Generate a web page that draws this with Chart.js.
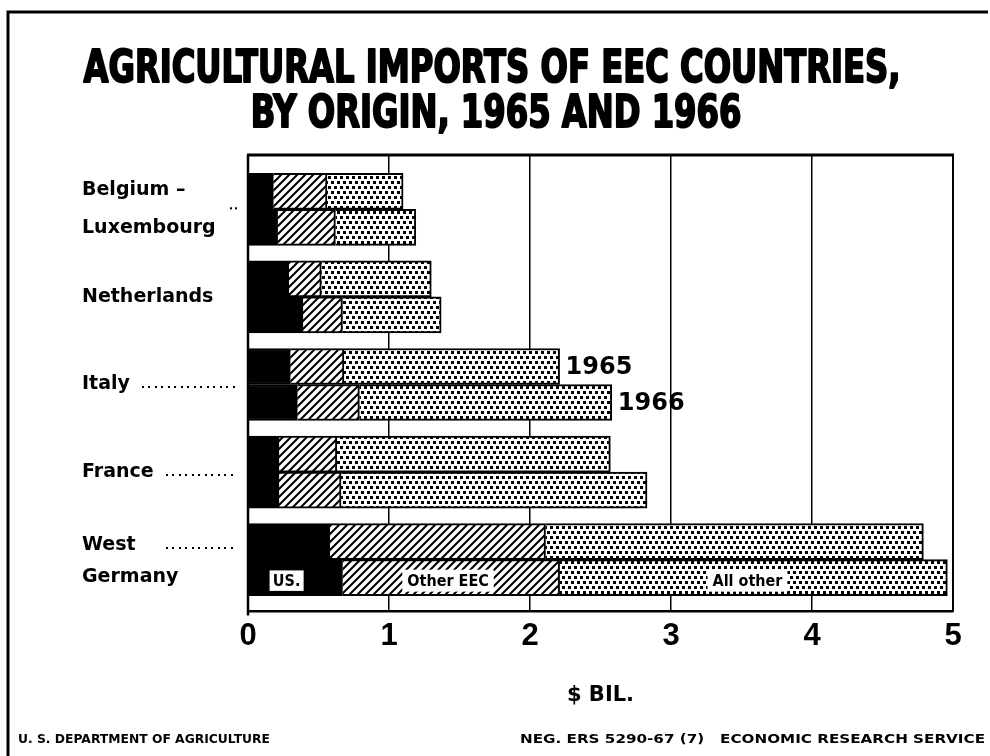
<!DOCTYPE html>
<html><head><meta charset="utf-8">
<script src="https://cdn.jsdelivr.net/npm/chart.js@4/dist/chart.umd.min.js"></script>
<style>html,body{margin:0;padding:0;background:#fff;}canvas{display:block;}</style>
</head><body>
<canvas id="c" width="990" height="756"></canvas>
<script>
// ---------- data ----------
const categories = [['Belgium –','Luxembourg'],['Netherlands'],['Italy'],['France'],['West','Germany']];
const years = ['1965','1966'];
const us1965    = [0.18, 0.29, 0.30, 0.22, 0.58];
const eec1965   = [0.38, 0.23, 0.38, 0.41, 1.53];
const other1965 = [0.54, 0.78, 1.53, 1.94, 2.68];
const us1966    = [0.21, 0.39, 0.35, 0.22, 0.67];
const eec1966   = [0.41, 0.28, 0.44, 0.44, 1.54];
const other1966 = [0.57, 0.70, 1.79, 2.17, 2.75];
const xTickLabels = ['0','1','2','3','4','5'];
const titleLines = ['AGRICULTURAL IMPORTS OF EEC COUNTRIES,','BY ORIGIN, 1965 AND 1966'];
const axisTitle = '$ BIL.';
const segmentNames = ['US.','Other EEC','All other'];
const footerLeft = 'U. S. DEPARTMENT OF AGRICULTURE';
const footerRight = 'NEG. ERS 5290-67 (7)   ECONOMIC RESEARCH SERVICE';

// ---------- styling ----------
const TITLE_FONT = "'Liberation Sans Narrow','DejaVu Sans Condensed','Roboto Condensed','Liberation Sans',sans-serif";
const LABEL_FONT = "'DejaVu Sans',sans-serif";
const TICK_FONT = "'Liberation Sans',Arial,sans-serif";

const canvas = document.getElementById('c');
const cctx = canvas.getContext('2d');

function makeHatch(){
  const c = document.createElement('canvas'); c.width = 8; c.height = 8;
  const g = c.getContext('2d');
  g.fillStyle = '#fff'; g.fillRect(0,0,8,8);
  g.strokeStyle = '#000'; g.lineWidth = 2.1;
  g.beginPath();
  g.moveTo(-1,9); g.lineTo(9,-1);
  g.moveTo(-1,1); g.lineTo(1,-1);
  g.moveTo(7,9); g.lineTo(9,7);
  g.stroke();
  return cctx.createPattern(c,'repeat');
}
function makeDots(){
  const c = document.createElement('canvas'); c.width = 6; c.height = 10;
  const g = c.getContext('2d');
  g.fillStyle = '#fff'; g.fillRect(0,0,6,10);
  g.fillStyle = '#000';
  g.fillRect(1,1,3,3);
  g.fillRect(4,6,2,3); g.fillRect(0,6,1,3);
  return cctx.createPattern(c,'repeat');
}
const HATCH = makeHatch();
const DOTS = makeDots();

function ds(label, arr, stack, bg){
  return {
    label, stack,
    data: arr.map((v,i)=>({x:v, y:i})),
    backgroundColor: bg, borderColor:'#000', borderWidth:2,
    borderSkipped:'start', barThickness:36
  };
}

function drawScaledText(ctx, text, x, y, width, font, align){
  ctx.save();
  ctx.font = font;
  const w = ctx.measureText(text).width;
  const sx = width / w;
  ctx.translate(x, y);
  ctx.scale(sx, 1);
  ctx.textAlign = align; ctx.textBaseline = 'middle';
  ctx.fillText(text, 0, 0);
  ctx.restore();
}

const deco = {
  id:'deco',
  beforeDraw(chart){
    const ctx = chart.ctx;
    ctx.save();
    ctx.fillStyle = '#fff'; ctx.fillRect(0,0,chart.width,chart.height);
    ctx.strokeStyle = '#000'; ctx.lineWidth = 3;
    ctx.beginPath(); ctx.moveTo(8,756); ctx.lineTo(8,12); ctx.lineTo(988,12); ctx.stroke();
    // title
    ctx.fillStyle = '#000';
    const tf = 'bold 45px ' + TITLE_FONT;
    ctx.font = tf;
    const sx = 817 / ctx.measureText(titleLines[0]).width;
    [[titleLines[0],492,70],[titleLines[1],496,115]].forEach(([t,x,y])=>{
      ctx.save(); ctx.translate(x,y); ctx.scale(sx,1);
      ctx.font = tf; ctx.textAlign='center'; ctx.textBaseline='middle';
      ctx.lineWidth = 2; ctx.lineJoin = 'round';
      ctx.fillText(t,0,0); ctx.strokeText(t,0,0); ctx.restore();
    });
    // footer
    drawScaledText(ctx, footerLeft, 18, 740, 252, 'bold 12px ' + LABEL_FONT, 'left');
    drawScaledText(ctx, footerRight, 985, 740, 465, 'bold 12px ' + LABEL_FONT, 'right');
    ctx.restore();
  },
  afterDatasetsDraw(chart){
    const ctx = chart.ctx;
    const a = chart.chartArea;
    ctx.save();
    ctx.strokeStyle = '#000';
    // plot frame
    ctx.lineWidth = 3;
    ctx.beginPath(); ctx.moveTo(a.left-1, a.top); ctx.lineTo(a.right+1, a.top); ctx.stroke();
    ctx.lineWidth = 2;
    ctx.beginPath(); ctx.moveTo(a.right, a.top); ctx.lineTo(a.right, a.bottom); ctx.stroke();
    ctx.lineWidth = 2.5;
    ctx.beginPath(); ctx.moveTo(a.left, a.top); ctx.lineTo(a.left, a.bottom+4); ctx.stroke();

    // category labels
    const yS = chart.scales.y;
    ctx.fillStyle = '#000';
    ctx.font = 'bold 19px ' + LABEL_FONT;
    ctx.textAlign = 'left'; ctx.textBaseline = 'middle';
    categories.forEach((lines,i)=>{
      const cy = yS.getPixelForValue(i);
      const offs = lines.length === 2 ? (i === 0 ? [-19, 19] : [-15, 17]) : [0];
      lines.forEach((t,k)=>{
        const y = cy + offs[k];
        ctx.fillText(t, 82, y);
        const leader = (t === 'Italy' || t === 'France' || t === 'West');
        if (leader){
          const end = ctx.measureText(t).width + 82;
          const start = t === 'West' ? end + 30 : end + 12;
          for (let x = start; x <= 233; x += 6.5) ctx.fillRect(Math.round(x), Math.round(y)+2, 2, 2);
        }
      });
      if (i === 0){ ctx.fillRect(230, cy-2, 2, 2); ctx.fillRect(235, cy-2, 2, 2); }
    });

    // year labels beside Italy bars
    ctx.font = 'bold 24px ' + LABEL_FONT;
    const m65 = chart.getDatasetMeta(2).data[2];
    const m66 = chart.getDatasetMeta(5).data[2];
    ctx.fillText(years[0], m65.x + 6, m65.y + 1);
    ctx.fillText(years[1], m66.x + 6, m66.y + 1);

    // segment names inside West Germany 1966 bar
    const wg = [3,4,5].map(d => chart.getDatasetMeta(d).data[4]);
    ctx.font = 'bold 16px ' + TITLE_FONT;
    ctx.textAlign = 'center';
    const shift = [-9, -3, -6];
    wg.forEach((el,k)=>{
      const cx = (el.base + el.x)/2 + shift[k];
      const cy = el.y + 3;
      const tw = ctx.measureText(segmentNames[k]).width;
      const bw = tw + (k === 0 ? 8 : 10), bh = 22;
      ctx.fillStyle = '#fff';
      ctx.fillRect(cx - bw/2, cy - bh/2, bw, bh);
      if (k === 0){ ctx.lineWidth = 1.5; ctx.strokeRect(cx - bw/2, cy - bh/2, bw, bh); }
      ctx.fillStyle = '#000';
      ctx.fillText(segmentNames[k], cx, cy + 1);
    });
    ctx.restore();
  }
};

new Chart(cctx, {
  type:'bar',
  data:{
    datasets:[
      ds('U.S. 1965', us1965, years[0], '#000'),
      ds('Other EEC 1965', eec1965, years[0], HATCH),
      ds('All other 1965', other1965, years[0], DOTS),
      ds('U.S. 1966', us1966, years[1], '#000'),
      ds('Other EEC 1966', eec1966, years[1], HATCH),
      ds('All other 1966', other1966, years[1], DOTS)
    ]
  },
  options:{
    responsive:false, animation:false, devicePixelRatio:1,
    indexAxis:'y',
    layout:{padding:{left:248, right:37, top:155, bottom:48}},
    plugins:{legend:{display:false}, tooltip:{enabled:false}, title:{display:false}},
    scales:{
      x:{
        type:'linear', min:0, max:5, stacked:true,
        grid:{color:'#000', lineWidth:1.5, drawTicks:false},
        border:{display:true, color:'#000', width:2.5},
        ticks:{stepSize:1, padding:6, color:'#000',
          font:{family:TICK_FONT, size:31, weight:'bold'},
          callback:(v,i)=>xTickLabels[i]},
        title:{display:true, text:axisTitle, color:'#000',
          font:{family:LABEL_FONT, size:21, weight:'bold'}, padding:{top:22, bottom:0}}
      },
      y:{type:'linear', min:-0.62, max:4.593, reverse:true, offset:false, display:false}
    }
  },
  plugins:[deco]
});
</script>
</body></html>
